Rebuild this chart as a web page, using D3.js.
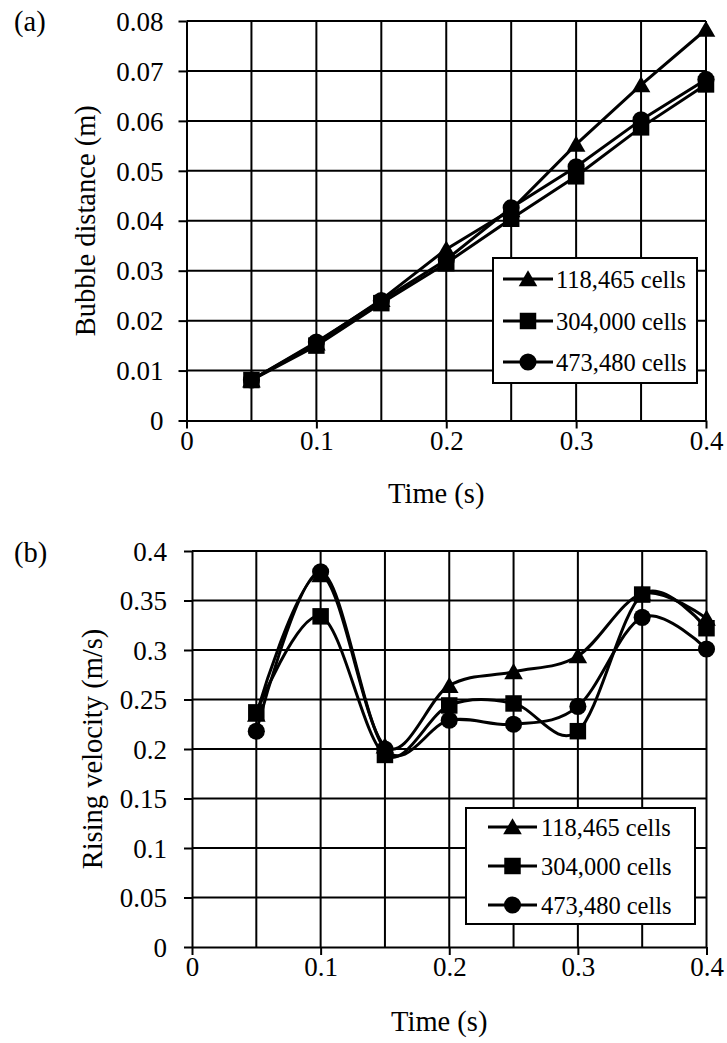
<!DOCTYPE html>
<html>
<head>
<meta charset="utf-8">
<script src="https://cdn.jsdelivr.net/npm/d3@7"></script>
<style>
  html, body { margin: 0; padding: 0; background: #fff; }
  svg { display: block; }
  text { font-family: "Liberation Serif", "Times New Roman", serif; fill: #000; }
</style>
</head>
<body>
<svg id="chart" width="727" height="1043"></svg>
<script>
// ---------- data ----------
const times = [0.05, 0.10, 0.15, 0.20, 0.25, 0.30, 0.35, 0.40];
const seriesNames = ["118,465 cells", "304,000 cells", "473,480 cells"];
const seriesSymbols = ["triangle", "square", "circle"];

// (a) Bubble distance (m)
const distA = [0.0081, 0.0155, 0.0242, 0.0343, 0.0422, 0.0553, 0.0672, 0.0783];
const distB = [0.0081, 0.0150, 0.0235, 0.0315, 0.0404, 0.0489, 0.0587, 0.0673];
const distC = [0.0081, 0.0157, 0.0240, 0.0322, 0.0426, 0.0508, 0.0602, 0.0683];

// (b) Rising velocity (m/s)
const velA = [0.235, 0.376, 0.203, 0.264, 0.278, 0.294, 0.357, 0.332];
const velB = [0.237, 0.334, 0.194, 0.244, 0.246, 0.218, 0.356, 0.322];
const velC = [0.218, 0.379, 0.200, 0.229, 0.225, 0.243, 0.333, 0.301];

const xTicks = [0, 0.1, 0.2, 0.3, 0.4];
const xGrid = [0.05, 0.1, 0.15, 0.2, 0.25, 0.3, 0.35, 0.4];
const yTicksA = [0, 0.01, 0.02, 0.03, 0.04, 0.05, 0.06, 0.07, 0.08];
const yTicksB = [0, 0.05, 0.1, 0.15, 0.2, 0.25, 0.3, 0.35, 0.4];

// ---------- drawing ----------
const svg = d3.select("#chart");
const FONT = 27;
const TITLE_FONT = 28.5;
const SERIF = '"Liberation Serif", "Times New Roman", serif';

function panel(cfg) {
  const g = svg.append("g");
  const x = d3.scaleLinear().domain([0, 0.4]).range([cfg.x0, cfg.x1]);
  const y = d3.scaleLinear().domain(cfg.yDomain).range([cfg.y0, cfg.y1]);

  // grid
  g.append("g").selectAll("line").data(cfg.yTicks.filter(d => d !== 0)).join("line")
    .attr("x1", x(0)).attr("x2", x(0.4))
    .attr("y1", d => y(d)).attr("y2", d => y(d))
    .attr("stroke", "#000").attr("stroke-width", 2);
  g.append("g").selectAll("line").data(xGrid).join("line")
    .attr("x1", d => x(d)).attr("x2", d => x(d))
    .attr("y1", y(cfg.yDomain[0])).attr("y2", y(cfg.yDomain[1]))
    .attr("stroke", "#000").attr("stroke-width", 2);

  // axes
  const ax = g.append("g").attr("transform", `translate(0,${y(0)})`)
    .call(d3.axisBottom(x).tickValues(xTicks).tickSize(8).tickSizeOuter(0).tickPadding(2)
      .tickFormat(d => d === 0 ? "0" : d3.format(".1f")(d)));
  const ay = g.append("g").attr("transform", `translate(${x(0)},0)`)
    .call(d3.axisLeft(y).tickValues(cfg.yTicks).tickSize(8).tickSizeOuter(0).tickPadding(cfg.yPad)
      .tickFormat(d => d === 0 ? "0" : String(+d.toFixed(3))));
  [ax, ay].forEach(a => {
    a.attr("font-family", SERIF);
    a.selectAll("path.domain").attr("stroke", "#000").attr("stroke-width", 2);
    a.selectAll(".tick line").attr("stroke", "#000").attr("stroke-width", 2);
    a.selectAll(".tick text").style("font-size", FONT + "px")
      .style("font-family", SERIF).attr("fill", "#000");
  });
  ay.selectAll(".tick text").attr("dy", "0.34em");

  // labels
  g.append("text").attr("x", (cfg.x0 + cfg.x1) / 2 - 10).attr("y", cfg.xTitleY)
    .attr("text-anchor", "middle").style("font-size", TITLE_FONT + "px").text("Time (s)");
  g.append("text").attr("transform", `translate(${cfg.yTitleX},${(cfg.y0 + cfg.y1) / 2}) rotate(-90)`)
    .attr("text-anchor", "middle").style("font-size", TITLE_FONT + "px").text(cfg.yTitle);
  g.append("text").attr("x", 14).attr("y", cfg.tagY).style("font-size", TITLE_FONT + "px").text(cfg.tag);

  // series
  const line = d3.line().x((d, i) => x(times[i])).y(d => y(d)).curve(cfg.curve);
  const sym = {
    triangle: d3.symbol().type(d3.symbolTriangle).size(150),
    square: d3.symbol().type(d3.symbolSquare).size(272),
    circle: d3.symbol().type(d3.symbolCircle).size(230)
  };
  cfg.series.forEach((vals) => {
    g.append("path").attr("d", line(vals)).attr("fill", "none")
      .attr("stroke", "#000").attr("stroke-width", 3);
  });
  cfg.series.forEach((vals, k) => {
    g.append("g").selectAll("path").data(vals).join("path")
      .attr("d", sym[seriesSymbols[k]])
      .attr("transform", (d, i) => `translate(${x(times[i])},${y(d) + (seriesSymbols[k] === "triangle" ? 2 : 0)})`)
      .attr("fill", "#000");
  });

  // legend
  const L = cfg.legend;
  const lg = g.append("g");
  lg.append("rect").attr("x", L.x).attr("y", L.y).attr("width", L.w).attr("height", L.h)
    .attr("fill", "#fff").attr("stroke", "#000").attr("stroke-width", 2);
  seriesNames.forEach((name, k) => {
    const cy = L.rows[k];
    lg.append("line").attr("x1", L.lx0).attr("x2", L.lx1).attr("y1", cy).attr("y2", cy)
      .attr("stroke", "#000").attr("stroke-width", 3);
    lg.append("path").attr("d", sym[seriesSymbols[k]])
      .attr("transform", `translate(${(L.lx0 + L.lx1) / 2},${cy + (seriesSymbols[k] === "triangle" ? 2 : 0)})`)
      .attr("fill", "#000");
    lg.append("text").attr("x", L.tx).attr("y", cy).attr("dy", "0.35em")
      .style("font-size", "24.5px").text(name);
  });
}

panel({
  x0: 186.5, x1: 706, y0: 420.5, y1: 21, yDomain: [0, 0.08], yTicks: yTicksA, yPad: 15,
  xTitleY: 503, yTitleX: 95, yTitle: "Bubble distance (m)", tag: "(a)", tagY: 31,
  curve: d3.curveLinear, series: [distA, distB, distC],
  legend: { x: 493, y: 258, w: 204, h: 125, rows: [279, 321, 362], lx0: 503, lx1: 553, tx: 556 }
});

panel({
  x0: 192, x1: 706.5, y0: 947, y1: 551, yDomain: [0, 0.4], yTicks: yTicksB, yPad: 17,
  xTitleY: 1031, yTitleX: 102, yTitle: "Rising velocity (m/s)", tag: "(b)", tagY: 562,
  curve: d3.curveCardinal.tension(0), series: [velA, velB, velC],
  legend: { x: 466, y: 808, w: 229, h: 116, rows: [827, 866, 905], lx0: 488, lx1: 537, tx: 541 }
});
</script>
</body>
</html>
